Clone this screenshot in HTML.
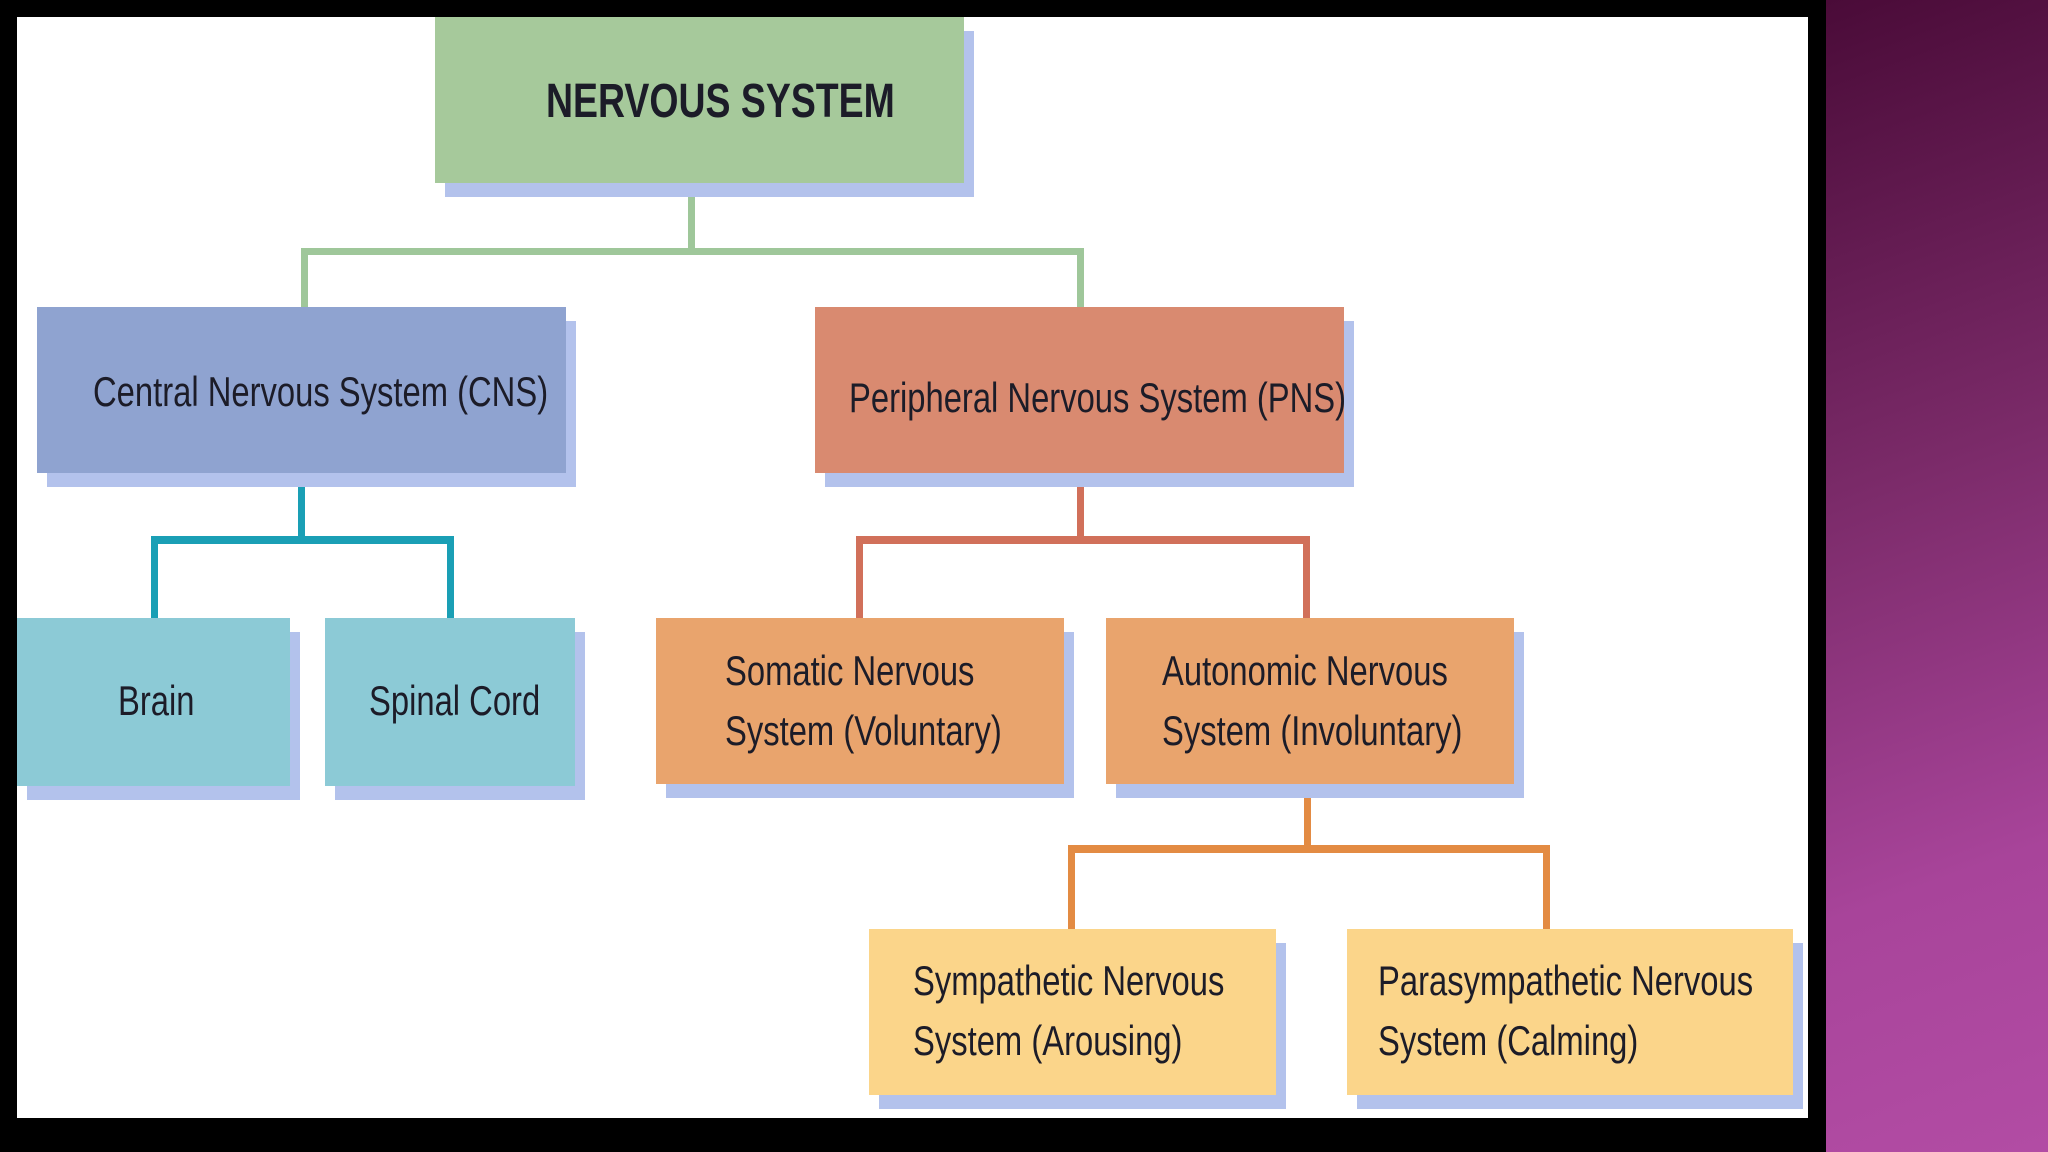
<!DOCTYPE html>
<html><head><meta charset="utf-8"><style>
*{margin:0;padding:0;box-sizing:border-box}
body{width:2048px;height:1152px;background:#000;position:relative;overflow:hidden;font-family:"Liberation Sans",sans-serif}
.w{position:absolute;left:17px;top:17px;width:1791px;height:1101px;background:#fff}
.p{position:absolute;left:1826px;top:0;width:222px;height:1152px;background:linear-gradient(160deg,#4a0b38 0%,#7a2a68 40%,#a8449a 75%,#b24ca4 100%)}
.b{position:absolute;box-shadow:10px 14px 0 #b3c2ec}
.t{position:absolute;white-space:nowrap;color:#1c1c28;font-size:42px;transform:scaleX(.78);transform-origin:left center;line-height:60px}
.c{position:absolute}
</style></head><body>
<div class="w"></div>
<div class="p"></div>
<!-- connectors -->
<div class="c" style="left:688px;top:183px;width:7px;height:71px;background:#9fc79a"></div>
<div class="c" style="left:301px;top:248px;width:783px;height:7px;background:#9fc79a"></div>
<div class="c" style="left:301px;top:248px;width:7px;height:60px;background:#9fc79a"></div>
<div class="c" style="left:1077px;top:248px;width:7px;height:60px;background:#9fc79a"></div>

<div class="c" style="left:298px;top:473px;width:7px;height:68px;background:#1a9fb5"></div>
<div class="c" style="left:151px;top:536px;width:303px;height:8px;background:#1a9fb5"></div>
<div class="c" style="left:151px;top:536px;width:7px;height:84px;background:#1a9fb5"></div>
<div class="c" style="left:447px;top:536px;width:7px;height:84px;background:#1a9fb5"></div>

<div class="c" style="left:1077px;top:473px;width:7px;height:68px;background:#d1705a"></div>
<div class="c" style="left:856px;top:536px;width:454px;height:8px;background:#d1705a"></div>
<div class="c" style="left:856px;top:536px;width:7px;height:84px;background:#d1705a"></div>
<div class="c" style="left:1303px;top:536px;width:7px;height:84px;background:#d1705a"></div>

<div class="c" style="left:1304px;top:784px;width:7px;height:66px;background:#e38b43"></div>
<div class="c" style="left:1068px;top:845px;width:482px;height:8px;background:#e38b43"></div>
<div class="c" style="left:1068px;top:845px;width:7px;height:86px;background:#e38b43"></div>
<div class="c" style="left:1543px;top:845px;width:7px;height:86px;background:#e38b43"></div>
<!-- boxes -->
<div class="b" style="left:435px;top:17px;width:529px;height:166px;background:#a6c99b"></div>
<div class="t" style="left:546px;top:72px;font-weight:bold;font-size:48px">NERVOUS SYSTEM</div>

<div class="b" style="left:37px;top:307px;width:529px;height:166px;background:#8fa3d0"></div>
<div class="t" style="left:93px;top:362px">Central Nervous System (CNS)</div>

<div class="b" style="left:815px;top:307px;width:529px;height:166px;background:#d98a70"></div>
<div class="t" style="left:849px;top:368px">Peripheral Nervous System (PNS)</div>

<div class="b" style="left:17px;top:618px;width:273px;height:168px;background:#8ccad6"></div>
<div class="t" style="left:118px;top:671px">Brain</div>
<div class="b" style="left:325px;top:618px;width:250px;height:168px;background:#8ccad6"></div>
<div class="t" style="left:369px;top:671px">Spinal Cord</div>

<div class="b" style="left:656px;top:618px;width:408px;height:166px;background:#e9a46d"></div>
<div class="t" style="left:725px;top:641px">Somatic Nervous<br>System (Voluntary)</div>
<div class="b" style="left:1106px;top:618px;width:408px;height:166px;background:#e9a46d"></div>
<div class="t" style="left:1162px;top:641px">Autonomic Nervous<br>System (Involuntary)</div>

<div class="b" style="left:869px;top:929px;width:407px;height:166px;background:#fbd58a"></div>
<div class="t" style="left:913px;top:951px">Sympathetic Nervous<br>System (Arousing)</div>
<div class="b" style="left:1347px;top:929px;width:446px;height:166px;background:#fbd58a"></div>
<div class="t" style="left:1378px;top:951px">Parasympathetic Nervous<br>System (Calming)</div>
</body></html>
